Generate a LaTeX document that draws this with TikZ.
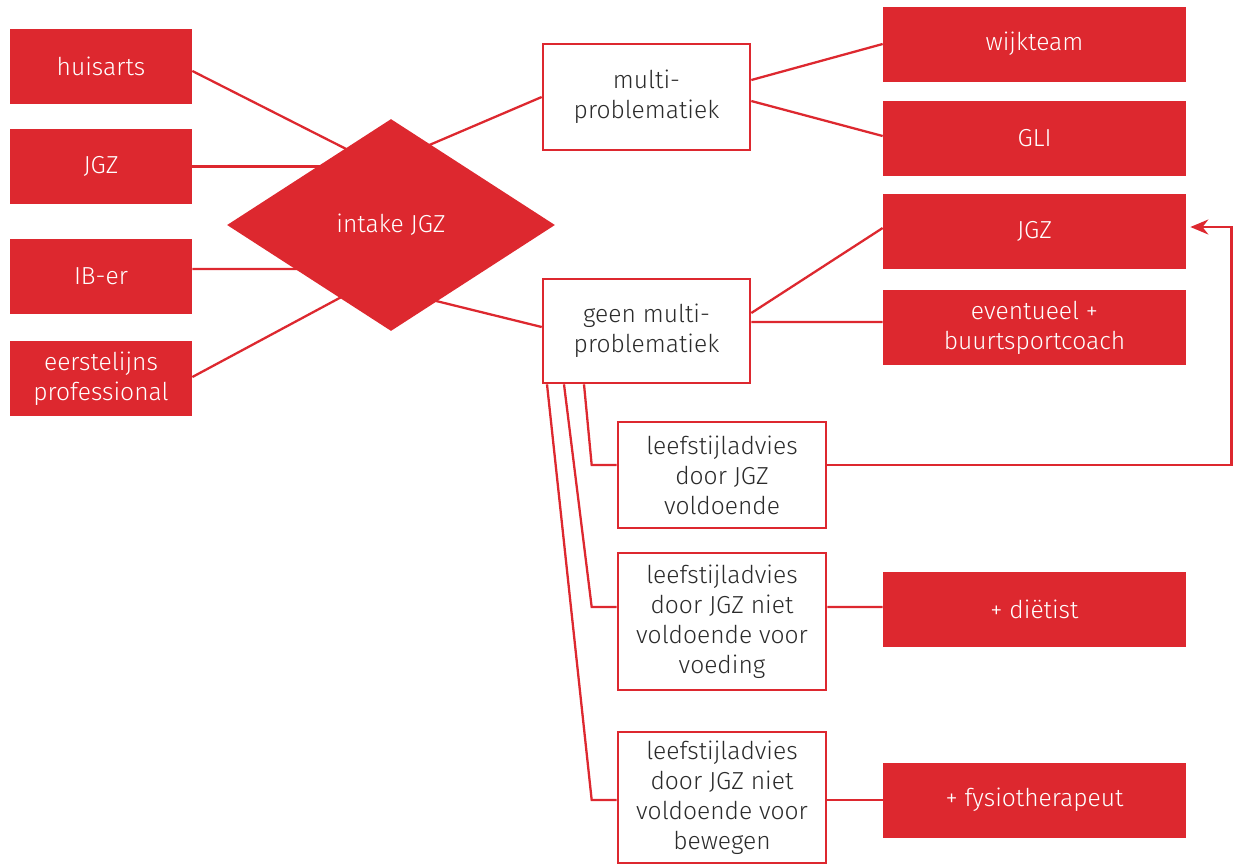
\documentclass[tikz,border=0pt]{standalone}
\usepackage{fontspec}
\setmainfont{Fira Sans}[UprightFont={* Light}]
\usepackage{tikz}
\usetikzlibrary{arrows.meta,shapes.geometric,backgrounds}
\definecolor{zorgred}{HTML}{DD282F}
\definecolor{zorgtext}{HTML}{2B2B2B}
\tikzset{
  box/.style={align=center,inner sep=2pt,font=\fontsize{14}{17}\selectfont},
  redbox/.style={box,fill=zorgred,text=white,minimum height=15mm},
  leftbox/.style={redbox,minimum width=36.4mm},
  rightbox/.style={redbox,minimum width=60.6mm},
  linebox/.style={box,draw=zorgred,line width=1.5pt,fill=white,text=zorgtext},
  ar/.style={draw=zorgred,line width=1.3pt},
  arr/.style={ar,-{Stealth[length=3.6mm,width=3mm]}},
}

\begin{document}
\begin{tikzpicture}[x=0.2mm,y=-0.2mm]
  \useasboundingbox (0,0) rectangle (1233,865);
  % sources
  \node[leftbox] (huisarts) at (101,66) {huisarts};
  \node[leftbox] (jgzin) at (101,166.5) {JGZ};
  \node[leftbox] (iber) at (101,276.5) {IB-er};
  \node[leftbox] (eerste) at (101,378.5) {eerstelijns\\professional};
  % intake
  \node[redbox,diamond,minimum width=65.6mm,minimum height=42.4mm,inner sep=0pt] (intake) at (391,225) {intake JGZ};
  \node[linebox,minimum width=41.4mm,minimum height=21.2mm] (multi) at (646.5,97) {multi-\\problematiek};
  \node[linebox,minimum width=41.4mm,minimum height=20.8mm] (geen) at (646.5,331) {geen multi-\\problematiek};
  % targets
  \node[rightbox] (wijkteam) at (1034.5,44) {wijkteam};
  \node[rightbox] (gli) at (1034.5,138.5) {GLI};
  \node[rightbox] (jgzuit) at (1034.5,231.5) {JGZ};
  \node[rightbox] (sport) at (1034.5,327.5) {eventueel +\\buurtsportcoach};
  \node[rightbox] (dietist) at (1034.5,609) {+ diëtist};
  \node[rightbox] (fysio) at (1034.5,800) {+ fysiotherapeut};
  % advies
  \node[linebox,minimum width=41.6mm,minimum height=21.2mm] (advies1) at (722,475) {leefstijladvies\\door JGZ\\voldoende};
  \node[linebox,minimum width=41.6mm,minimum height=27.4mm] (advies2) at (722,621.5) {leefstijladvies\\door JGZ niet\\voldoende voor\\voeding};
  \node[linebox,minimum width=41.6mm,minimum height=26.2mm] (advies3) at (722,797.5) {leefstijladvies\\door JGZ niet\\voldoende voor\\bewegen};
  % hidden ends behind the diamond
  \coordinate (in1) at (360,156);
  \coordinate (in2) at (350,166.5);
  \coordinate (in3) at (350,269);
  \coordinate (in4) at (360,287);
  \coordinate (out1) at (420,149);
  \coordinate (out2) at (420,297);
  \begin{scope}[on background layer]
    \draw[ar] ([yshift=-1mm]huisarts.east) -- (in1);
    \draw[ar] (jgzin.east) -- (in2);
    \draw[ar] ([yshift=1.5mm]iber.east) -- (in3);
    \draw[ar] ([yshift=0.3mm]eerste.east) -- (in4);
    \draw[ar] (multi.west) -- (out1);
    \draw[ar] ([yshift=0.8mm]geen.west) -- (out2);
  \end{scope}
  \draw[ar] ([yshift=3.4mm]multi.east) -- (wijkteam.west);
  \draw[ar] ([yshift=-0.8mm]multi.east) -- ([yshift=0.5mm]gli.west);
  \draw[ar] ([yshift=3.6mm]geen.east) -- ([yshift=0.7mm]jgzuit.west);
  \draw[ar] ([yshift=1.8mm]geen.east) -- ([yshift=1.1mm]sport.west);
  \draw[ar] ([xshift=-12.5mm]geen.south) -- ([xshift=-5mm,yshift=2mm]advies1.west) -- ([yshift=2mm]advies1.west);
  \draw[ar] ([xshift=-16.5mm]geen.south) -- ([xshift=-5mm,yshift=2.9mm]advies2.west) -- ([yshift=2.9mm]advies2.west);
  \draw[ar] ([xshift=-19.9mm]geen.south) -- ([xshift=-5mm,yshift=-0.5mm]advies3.west) -- ([yshift=-0.5mm]advies3.west);
  \draw[arr] ([yshift=2mm]advies1.east) -| ([xshift=9mm,yshift=0.9mm]jgzuit.east) -- ([xshift=0.8mm,yshift=0.9mm]jgzuit.east);
  \draw[ar] ([yshift=2.9mm]advies2.east) -- ([yshift=0.4mm]dietist.west);
  \draw[ar] ([yshift=-0.5mm]advies3.east) -- (fysio.west);
\end{tikzpicture}
\end{document}
